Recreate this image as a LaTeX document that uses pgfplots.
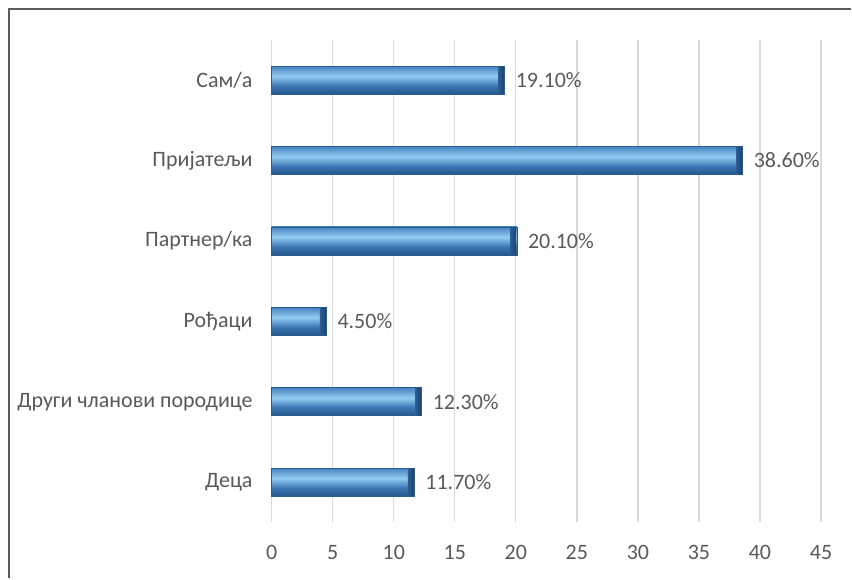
\documentclass[border=0pt]{standalone}
\usepackage{fontspec}
\setmainfont{Carlito}
\usepackage{pgfplots}
\pgfplotsset{compat=1.18}

\definecolor{txt}{HTML}{595959}
\definecolor{gridc}{HTML}{D9D9D9}
\definecolor{frame}{HTML}{5A5A5A}
\definecolor{b1}{HTML}{24568A}
\definecolor{b2}{HTML}{3B77B5}
\definecolor{b3}{HTML}{93CBF1}
\definecolor{b4}{HTML}{6EA8DA}
\definecolor{b5}{HTML}{4683C2}
\definecolor{capc}{HTML}{1E4470}
\definecolor{baredge}{HTML}{2A5C8E}

\pgfdeclareverticalshading{barshade}{100bp}{
  color(0bp)=(b1); color(25bp)=(b1); color(40bp)=(b2);
  color(57bp)=(b3); color(66bp)=(b4); color(75bp)=(b5); color(100bp)=(b5)}

\pgfplotsset{
  bevelbar/.style={draw=baredge, line width=0.5pt, shading=barshade, bar shift=0pt},
}

\begin{document}
\begin{tikzpicture}
\begin{axis}[
    at={(0,0)}, anchor=south west,
    scale only axis,
    width=330pt, height=289.8pt,
    xbar, bar width=16.8pt,
    xmin=0, xmax=45,
    ymin=0.5, ymax=6.5,
    xtick={0,5,...,45},
    ytick={1,...,6},
    yticklabels={Деца,Други чланови породице,Рођаци,Партнер/ка,Пријатељи,Сам/а},
    xmajorgrids=true,
    grid style={gridc, line width=0.8pt},
    axis line style={draw=none},
    major tick length=0pt,
    tick style={draw=none},
    /pgf/number format/assume math mode=true,
    tick label style={font=\fontsize{13.2}{15}\selectfont, text=txt},
    xticklabel shift=10pt,
    yticklabel shift=8pt,
    point meta=explicit symbolic,
    nodes near coords,
    nodes near coords style={font=\fontsize{13.2}{15}\selectfont, text=txt,
      anchor=west, xshift=3pt,
      label={[shape=rectangle, inner sep=0pt, minimum width=3.5pt, minimum height=16.3pt,
              left color=b2!50!capc, right color=capc, label distance=3.3pt]west:{}}},
    clip=false,
]
\addplot[bevelbar] coordinates {(11.7,1) [11.70\%]};
\addplot[bevelbar] coordinates {(12.3,2) [12.30\%]};
\addplot[bevelbar] coordinates {(4.5,3) [4.50\%]};
\addplot[bevelbar] coordinates {(20.1,4) [20.10\%]};
\addplot[bevelbar] coordinates {(38.6,5) [38.60\%]};
\addplot[bevelbar] coordinates {(19.1,6) [19.10\%]};
\end{axis}
\draw[frame, line width=1.2pt] (-157.8pt,-33.6pt) -- (-157.8pt,308.4pt) -- (348pt,308.4pt);
\path[use as bounding box] (-163.2pt,-33.6pt) rectangle (348pt,313.8pt);
\end{tikzpicture}
\end{document}
